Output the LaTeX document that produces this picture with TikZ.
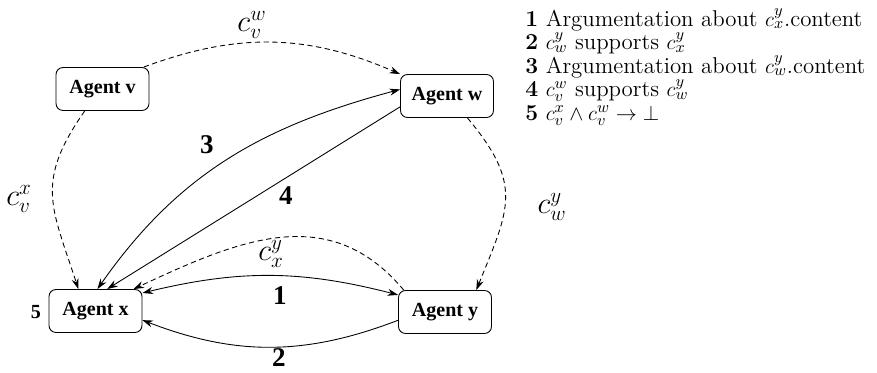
\documentclass[tikz,border=0pt]{standalone}
\usepackage{fontspec}
\usepackage{amsmath}
\usetikzlibrary{arrows.meta}
\newfontfamily\agentfont{Liberation Serif}

\begin{document}
\begin{tikzpicture}[
		>={Stealth[length=6pt,width=4pt]}, line width=0.5pt,
		agent/.style={draw,rounded corners=4pt,minimum width=1.86cm,minimum height=0.86cm,
			inner sep=2pt,font=\agentfont\bfseries\fontsize{11.4}{13}\selectfont}, % agent box
		msg/.style={->,dash pattern=on 3pt off 2pt}, % message passed on
		num/.style={font=\agentfont\bfseries\fontsize{15.4}{18}\selectfont},
		clab/.style={font=\fontsize{17.5}{20}\selectfont},
		legline/.style={anchor=base west,inner sep=0pt,font=\fontsize{13}{15}\selectfont},
	]
	\useasboundingbox (0,0) rectangle (17.54,-7.44);

	% --- the four agents
	\node[agent] (v) at (2.05,-1.78) {Agent v};
	\node[agent] (w) at (8.94,-1.92) {Agent w};
	\node[agent] (x) at (1.91,-6.22) {Agent x};
	\node[agent] (y) at (8.90,-6.24) {Agent y};

	% --- messages (dashed) and their contents
	\draw[msg] (v.28) to[bend left=22] (w.155);
	\draw[msg] (v.231) to[out=235,in=108,looseness=1.25] (x.128);
	\draw[msg] (w.313) to[out=-50,in=68,looseness=1.3] (y.35);
	\draw[msg] (y.152) to[out=130,in=25,looseness=1.1] (x.30);
	\node[clab] (cvw) at (5.04,-0.50) {$c^w_v$};
	\node[clab] (cvx) at (0.38,-3.98) {$c^x_v$};
	\node[clab] (cwy) at (11.04,-4.14) {$c^y_w$};
	\node[clab] (cxy) at (5.42,-5.08) {$c^y_x$};

	% --- argumentation steps
	\draw[<->] (x.85) to[out=55,in=195] (w.172);
	\draw[->] (w.193) -- (x.62);
	\draw[<->] (x.21) to[bend left=14] (y.160);
	\draw[->] (y.190) to[bend left=21] (x.349);
	\node[num] (n1) at (5.60,-5.92) {1};
	\node[num] (n2) at (5.58,-7.16) {2};
	\node[num] (n3) at (4.14,-2.90) {3};
	\node[num] (n4) at (5.72,-3.92) {4};
	\node[num,font=\agentfont\bfseries\fontsize{11.4}{13}\selectfont] (n5) at (0.72,-6.24) {5};

	% --- legend
	\foreach \i/\t in {1/{Argumentation about $c^y_x$.content}, 2/{$c^y_w$ supports $c^y_x$},
			3/{Argumentation about $c^y_w$.content}, 4/{$c^w_v$ supports $c^y_w$},
			5/{$c^x_v\wedge c^w_v\rightarrow\bot$}}{
			\node[legline] (leg\i) at (10.5,{-0.52-0.47*(\i-1)}) {\textbf{\i} \t};
		}
\end{tikzpicture}
\end{document}
